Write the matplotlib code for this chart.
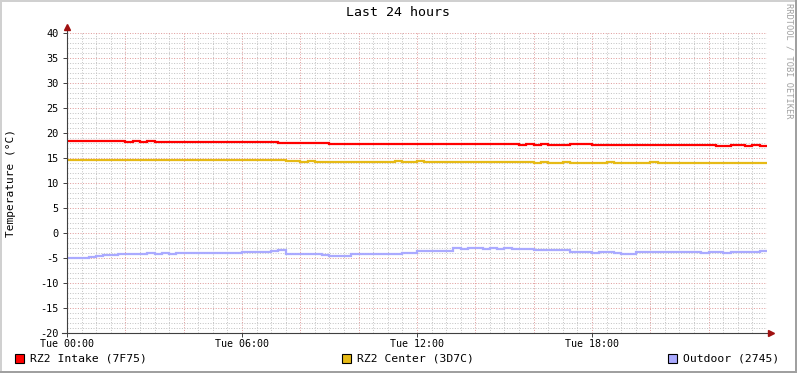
import numpy as np
import matplotlib
matplotlib.use("Agg")
import matplotlib.pyplot as plt
from matplotlib.patches import Rectangle

# -----------------------------
# Data (15-minute bins, hours since Tue 00:00)
# -----------------------------
hours = np.arange(0, 24.01, 0.25)

intake = [18.4] * 8 + [18.2, 18.45, 18.2, 18.45] + [18.2] * 17 + [18.05] + [18.05] * 6 \
    + [17.85] * 26 + [17.7, 17.8, 17.7, 17.8, 17.7, 17.7, 17.7, 17.8, 17.8, 17.75] \
    + [17.67] * 17 + [17.46, 17.46, 17.55, 17.6, 17.5, 17.55, 17.46]

center = [14.6, 14.55, 14.6, 14.7, 14.6, 14.55, 14.6, 14.6,
          14.55, 14.6, 14.6, 14.55, 14.6, 14.65, 14.6, 14.6,
          14.55, 14.6, 14.6, 14.6, 14.55, 14.6, 14.7, 14.6,
          14.6, 14.55, 14.6, 14.6, 14.55, 14.6, 14.4, 14.45,
          14.3, 14.45, 14.3, 14.25, 14.2, 14.3, 14.25, 14.2,
          14.25, 14.2, 14.2, 14.25, 14.2, 14.45, 14.3, 14.2,
          14.35, 14.25, 14.3, 14.2, 14.15, 14.2, 14.2, 14.25,
          14.2, 14.2, 14.15, 14.2, 14.2, 14.25, 14.2, 14.15,
          14.1, 14.15, 14.1, 14.1, 14.2, 14.05, 14.1, 14.1,
          14.05, 14.1, 14.2, 14.1, 14.0, 14.05, 14.1, 14.1,
          14.15, 14.1, 14.0, 14.1, 14.05, 14.1, 14.1, 14.0,
          14.05, 14.1, 14.0, 14.05, 14.0, 14.1, 14.0, 13.95]

outdoor = [-5.0, -5.0, -4.9,
           -4.73, -4.6, -4.47, -4.4, -4.27, -4.25, -4.2, -4.15,
           -4.05, -4.1, -4.0, -4.1, -4.05, -4.0, -4.05, -3.95, -4.0, -3.95, -4.0, -3.95, -3.9,
           -3.8, -3.8, -3.75, -3.8, -3.6,
           -3.4,
           -4.1, -4.2, -4.2, -4.25,
           -4.27, -4.3,
           -4.6, -4.55, -4.6,
           -4.27, -4.25, -4.27, -4.25, -4.2, -4.25, -4.2,
           -3.95, -3.9,
           -3.6, -3.65, -3.55, -3.6, -3.65,
           -3.07, -3.1, -3.0, -3.05, -3.1, -3.0, -3.1, -3.05, -3.15, -3.1, -3.15,
           -3.4, -3.35, -3.4, -3.4, -3.45,
           -3.85, -3.85, -3.8, -3.9, -3.85, -3.85, -3.9,
           -4.2, -4.15,
           -3.8, -3.75, -3.7, -3.8, -3.75, -3.8, -3.85, -3.8, -3.85, -3.9, -3.85, -3.85,
           -3.9, -3.8, -3.75, -3.8, -3.7,
           -3.55]

series_names = ["RZ2 Intake (7F75)", "RZ2 Center (3D7C)", "Outdoor (2745)"]
series_colors = ["#FF0000", "#E6BA16", "#AAAAFF"]
xtick_pos = [0, 6, 12, 18]
xtick_labels = ["Tue 00:00", "Tue 06:00", "Tue 12:00", "Tue 18:00"]

# -----------------------------
# Figure
# -----------------------------
W, H = 797, 373
fig = plt.figure(figsize=(W / 100, H / 100), dpi=100)
fig.patch.set_facecolor("white")
mono = "DejaVu Sans Mono"


def fx(px):
    return px / W


def fy(py):
    return 1 - py / H


# frame
fig.patches.append(Rectangle((0, fy(2)), 1, 2 / H, transform=fig.transFigure,
                             color="#D0D0D0", lw=0))
fig.patches.append(Rectangle((0, 0), 2 / W, 1, transform=fig.transFigure,
                             color="#D0D0D0", lw=0))
fig.patches.append(Rectangle((0, 0), 1, 2 / H, transform=fig.transFigure,
                             color="#A0A0A0", lw=0))
fig.patches.append(Rectangle((1 - 2 / W, 0), 2 / W, 1, transform=fig.transFigure,
                             color="#A0A0A0", lw=0))

ax = fig.add_axes([fx(67), fy(333), 700 / W, 300 / H])
ax.set_facecolor("white")
ax.set_xlim(0, 24)
ax.set_ylim(-20, 40)

# grid
for h in np.arange(0.5, 24, 0.5):
    major = abs(h / 2 - round(h / 2)) < 1e-6
    ax.axvline(h, color="#E09C9C" if major else "#C4C4C4", lw=0.72,
               dashes=(1, 1.6), zorder=0)
for v in range(-19, 41):
    major = v % 5 == 0
    ax.axhline(v, color="#E09C9C" if major else "#C4C4C4", lw=0.72,
               dashes=(1, 1.6), zorder=0)

# data
for vals, col in zip([intake, center, outdoor], series_colors):
    ax.plot(hours, vals + [vals[-1]], drawstyle="steps-post", color=col,
            lw=1.6, solid_joinstyle="miter", zorder=3)

for s in ax.spines.values():
    s.set_visible(False)

ax.set_yticks(range(-20, 41, 5))
ax.set_yticklabels([str(v) for v in range(-20, 41, 5)], fontfamily=mono,
                   fontsize=7.4)
ax.set_xticks(xtick_pos)
ax.set_xticklabels(xtick_labels, fontfamily=mono, fontsize=7.2)
ax.tick_params(axis="y", length=3, width=0.7, color="#404040", pad=3)
ax.tick_params(axis="x", length=3, width=0.7, color="#404040", pad=1)

# axes lines with arrows
ax.plot([0, 0], [0, 1.02], transform=ax.transAxes, color="#404040", lw=0.8,
        clip_on=False, zorder=4)
ax.plot([-0.007, 1.005], [0, 0], transform=ax.transAxes, color="#404040",
        lw=0.8, clip_on=False, zorder=4)
ax.plot([0], [1.02], marker="^", ms=4, color="#A01010", transform=ax.transAxes,
        clip_on=False, zorder=5)
ax.plot([1.006], [0], marker=">", ms=4, color="#A01010", transform=ax.transAxes,
        clip_on=False, zorder=5)

# texts
fig.text(fx(398), fy(13), "Last 24 hours", ha="center", va="center",
         fontfamily=mono, fontsize=9.5)
fig.text(fx(11), fy(183), "Temperature (°C)", ha="center", va="center",
         rotation=90, fontfamily=mono, fontsize=8)
fig.text(fx(788.5), fy(61), "RRDTOOL / TOBI OETIKER", ha="center",
         va="center", rotation=270, fontfamily=mono, fontsize=6.2,
         color="#A0A0A0")

# legend
legend_x = [15, 342, 668]
for name, col, lx in zip(series_names, series_colors, legend_x):
    fig.patches.append(Rectangle((fx(lx), fy(363)), 9 / W, 9 / H,
                                 transform=fig.transFigure, facecolor=col,
                                 edgecolor="black", lw=0.8))
    fig.text(fx(lx + 15), fy(358.5), name, ha="left", va="center",
             fontfamily=mono, fontsize=8.2)

fig.savefig("out.png", dpi=100)
